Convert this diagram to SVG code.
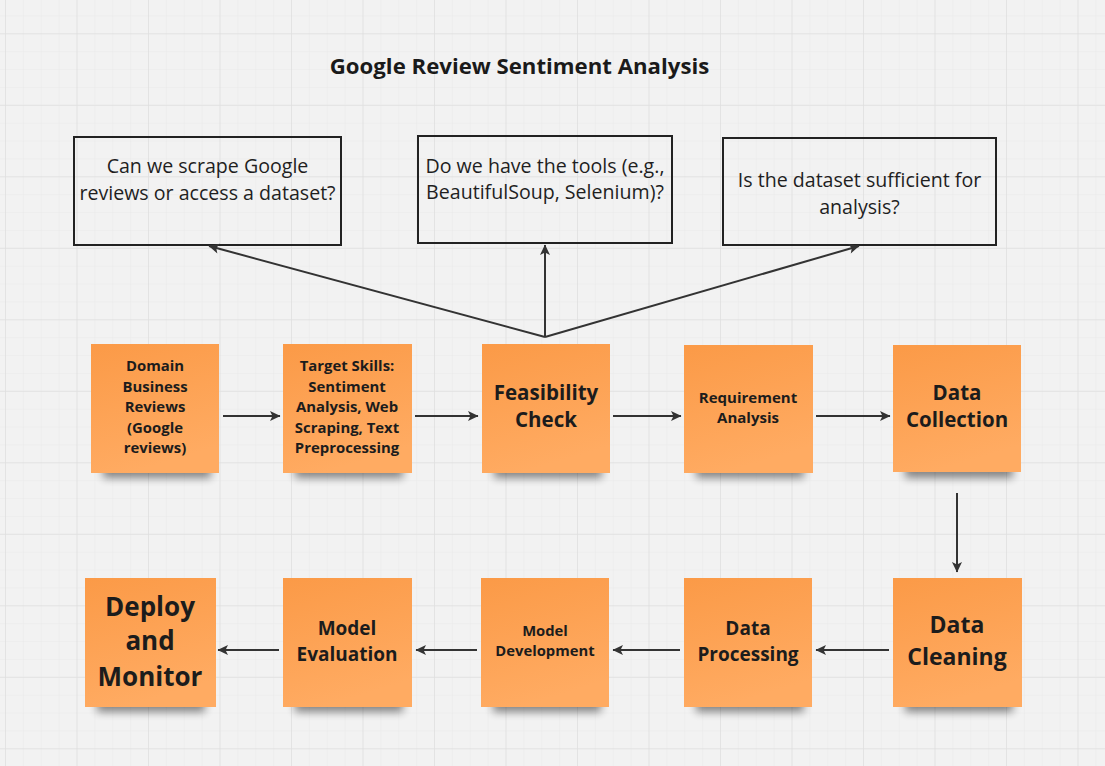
<svg xmlns="http://www.w3.org/2000/svg" width="1105" height="766" viewBox="0 0 1105 766">
<style>
.q{fill:none;stroke:#222;stroke-width:2}
.qt{font-family:"Open Sans","Liberation Sans",sans-serif;font-size:19.6px;fill:#1f1f1f;text-anchor:middle}
.st{fill:url(#sg)}
.sh{fill:#000;opacity:.45;filter:url(#blur)}
.t{font-family:"Open Sans","Liberation Sans",sans-serif;font-weight:bold;fill:#1c1c1c;text-anchor:middle}
.c{fill:none;stroke:#333;stroke-width:2}
</style>
<defs>
<pattern id="minor" width="17.875" height="17.875" patternUnits="userSpaceOnUse" x="5" y="33.3">
<path d="M0 0H17.875M0 0V17.875" fill="none" stroke="#e9e9e9" stroke-width="1"/>
</pattern>
<pattern id="major" width="71.5" height="71.5" patternUnits="userSpaceOnUse" x="5" y="33.3">
<path d="M0 0H71.5M0 0V71.5" fill="none" stroke="#e0e0e0" stroke-width="1.5"/>
</pattern>
<linearGradient id="sg" x1="0" y1="0" x2="0.3" y2="1">
<stop offset="0" stop-color="#fb9a47"/>
<stop offset="1" stop-color="#ffab62"/>
</linearGradient>
<filter id="blur" x="-20%" y="-100%" width="140%" height="300%">
<feGaussianBlur stdDeviation="4"/>
</filter>
<marker id="ah" viewBox="0 0 12 12" refX="11" refY="6" markerWidth="12" markerHeight="12" markerUnits="userSpaceOnUse" orient="auto">
<path d="M1,1 L11.5,6 L1,11 L3.5,6 z" fill="#333"/>
</marker>
</defs>
<rect width="1105" height="766" fill="#f2f2f2"/>
<rect width="1105" height="766" fill="url(#minor)"/>
<rect width="1105" height="766" fill="url(#major)"/>

<text id="title" x="519.5" y="74" font-family="'Open Sans','Liberation Sans',sans-serif" font-weight="bold" font-size="22.2" fill="#1a1a1a" text-anchor="middle">Google Review Sentiment Analysis</text>

<g id="q1">
<rect class="q" x="74" y="137" width="267" height="108"/>
<text class="qt" x="207.5" y="173">Can we scrape Google</text>
<text class="qt" x="207.5" y="200">reviews or access a dataset?</text>
</g>
<g id="q2">
<rect class="q" x="418" y="136" width="254" height="107"/>
<text class="qt" x="545" y="173">Do we have the tools (e.g.,</text>
<text class="qt" x="545" y="199">BeautifulSoup, Selenium)?</text>
</g>
<g id="q3">
<rect class="q" x="723" y="138" width="273" height="107"/>
<text class="qt" x="859.5" y="187">Is the dataset sufficient for</text>
<text class="qt" x="859.5" y="214">analysis?</text>
</g>

<g id="connectors">
<path class="c" d="M545,337 L209,246" marker-end="url(#ah)"/>
<path class="c" d="M545,337 L545,245" marker-end="url(#ah)"/>
<path class="c" d="M545,337 L859,246" marker-end="url(#ah)"/>
<path class="c" d="M223,416 H280" marker-end="url(#ah)"/>
<path class="c" d="M415,416 H478" marker-end="url(#ah)"/>
<path class="c" d="M613,416 H681" marker-end="url(#ah)"/>
<path class="c" d="M816,416 H890" marker-end="url(#ah)"/>
<path class="c" d="M957,493 V572" marker-end="url(#ah)"/>
<path class="c" d="M889,650 H816" marker-end="url(#ah)"/>
<path class="c" d="M680,650 H613" marker-end="url(#ah)"/>
<path class="c" d="M477,650 H416" marker-end="url(#ah)"/>
<path class="c" d="M279,650 H218" marker-end="url(#ah)"/>
</g>

<g id="n1">
<rect class="sh" x="103" y="462" width="108" height="16"/>
<rect class="st" x="91" y="344" width="128" height="129"/>
<text class="t" font-size="14.9" x="155"><tspan x="155" y="371">Domain</tspan><tspan x="155" y="391.5">Business</tspan><tspan x="155" y="412">Reviews</tspan><tspan x="155" y="432.5">(Google</tspan><tspan x="155" y="453">reviews)</tspan></text>
</g>
<g id="n2">
<rect class="sh" x="295" y="462" width="108" height="16"/>
<rect class="st" x="283" y="344" width="129" height="129"/>
<text class="t" font-size="14.9" x="347"><tspan x="347" y="371">Target Skills:</tspan><tspan x="347" y="391.5">Sentiment</tspan><tspan x="347" y="412">Analysis, Web</tspan><tspan x="347" y="432.5">Scraping, Text</tspan><tspan x="347" y="453">Preprocessing</tspan></text>
</g>
<g id="n3">
<rect class="sh" x="494" y="462" width="108" height="16"/>
<rect class="st" x="482" y="344" width="128" height="129"/>
<text class="t" font-size="20.5" x="546"><tspan x="546" y="400">Feasibility</tspan><tspan x="546" y="427">Check</tspan></text>
</g>
<g id="n4">
<rect class="sh" x="696" y="462" width="108" height="16"/>
<rect class="st" x="684" y="345" width="129" height="128"/>
<text class="t" font-size="15" x="748"><tspan x="748" y="402.5">Requirement</tspan><tspan x="748" y="422.5">Analysis</tspan></text>
</g>
<g id="n5">
<rect class="sh" x="905" y="462" width="108" height="16"/>
<rect class="st" x="893" y="345" width="128" height="127"/>
<text class="t" font-size="20.5" x="957"><tspan x="957" y="400">Data</tspan><tspan x="957" y="427">Collection</tspan></text>
</g>
<g id="n6">
<rect class="sh" x="905" y="696" width="108" height="16"/>
<rect class="st" x="893" y="578" width="129" height="129"/>
<text class="t" font-size="23" x="957"><tspan x="957" y="633">Data</tspan><tspan x="957" y="665">Cleaning</tspan></text>
</g>
<g id="n7">
<rect class="sh" x="696" y="696" width="108" height="16"/>
<rect class="st" x="684" y="578" width="128" height="129"/>
<text class="t" font-size="19" x="748"><tspan x="748" y="634.5">Data</tspan><tspan x="748" y="660.5">Processing</tspan></text>
</g>
<g id="n8">
<rect class="sh" x="493" y="696" width="108" height="16"/>
<rect class="st" x="481" y="578" width="128" height="129"/>
<text class="t" font-size="14.8" x="545"><tspan x="545" y="636">Model</tspan><tspan x="545" y="656">Development</tspan></text>
</g>
<g id="n9">
<rect class="sh" x="295" y="696" width="108" height="16"/>
<rect class="st" x="283" y="578" width="129" height="129"/>
<text class="t" font-size="19" x="347"><tspan x="347" y="634.5">Model</tspan><tspan x="347" y="660.5">Evaluation</tspan></text>
</g>
<g id="n10">
<rect class="sh" x="97" y="696" width="108" height="16"/>
<rect class="st" x="85" y="578" width="131" height="129"/>
<text class="t" font-size="26" x="150"><tspan x="150" y="616">Deploy</tspan><tspan x="150" y="650">and</tspan><tspan x="150" y="686">Monitor</tspan></text>
</g>
</svg>
